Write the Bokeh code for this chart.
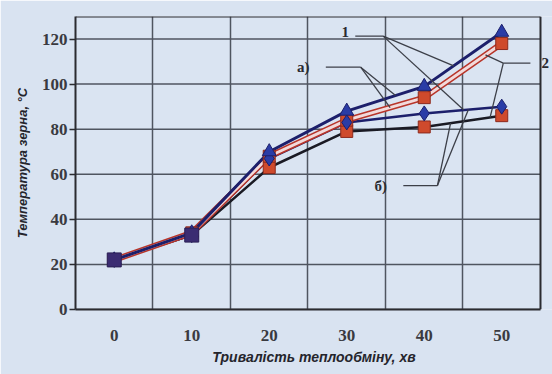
import numpy as np
from bokeh.plotting import figure
from bokeh.models import FixedTicker, Label, Range1d
from bokeh.embed import file_html
from bokeh.resources import INLINE

# Heat-exchange duration, minutes
minutes = [0, 10, 20, 30, 40, 50]
tick_labels = ["0", "10", "20", "30", "40", "50"]
y_ticks = [0, 20, 40, 60, 80, 100, 120]

# Grain temperature, °C, for the four regimes
temp_1a = [22, 34, 70, 88, 99, 123]
temp_2a = [22, 34, 68, 84, 94, 118]
temp_1b = [22, 33, 67, 83, 87, 90]
temp_2b = [22, 33, 63, 79, 81, 86]

X_LO, X_HI, Y_HI = -5, 55, 130

NAVY = "#1c1f6b"
BLUE = "#2a3ca6"
RED = "#cf4a2c"
DARK = "#1a1a24"
GRID = "#4f5560"
FRAME = "#2b2b30"

# the frame runs a little past the plot box so the "2" callout fits on the right
p = figure(width=552, height=374, output_backend="svg", toolbar_location=None,
           x_range=Range1d(X_LO, 56.55), y_range=Range1d(0, Y_HI),
           min_border_left=75, min_border_right=0, min_border_top=16,
           min_border_bottom=65)

p.background_fill_color = "#dae4f2"
p.border_fill_color = "#d9e3f1"
p.outline_line_color = None

# vertical grid between categories, horizontal grid at value ticks (limited to the box)
p.xgrid.ticker = FixedTicker(ticks=[5, 15, 25, 35, 45])
p.xgrid.grid_line_color = GRID
p.xgrid.grid_line_width = 1.5
p.ygrid.grid_line_color = None
p.segment([X_LO] * len(y_ticks), y_ticks, [X_HI] * len(y_ticks), y_ticks,
          line_color=GRID, line_width=1.5)

# box: top and right edges (left and bottom are the axes)
p.segment([X_LO, X_HI], [Y_HI, 0], [X_HI, X_HI], [Y_HI, Y_HI],
          line_color=FRAME, line_width=2)

p.xaxis.ticker = FixedTicker(ticks=minutes)
p.xaxis.major_label_overrides = {m: t for m, t in zip(minutes, tick_labels)}
p.xaxis.major_tick_out = 0
p.xaxis.major_tick_in = 0
p.xaxis.minor_tick_line_color = None
p.xaxis.major_label_standoff = 20
p.xaxis.bounds = (X_LO, X_HI)

p.yaxis.ticker = FixedTicker(ticks=y_ticks)
p.yaxis.major_tick_out = 6
p.yaxis.major_tick_in = 0
p.yaxis.minor_tick_line_color = None
p.yaxis.major_label_standoff = 2

for ax in (p.xaxis, p.yaxis):
    ax.axis_line_color = FRAME
    ax.axis_line_width = 2
    ax.major_tick_line_color = FRAME
    ax.major_tick_line_width = 1.5
    ax.major_label_text_font = "Liberation Serif"
    ax.major_label_text_font_style = "bold"
    ax.major_label_text_font_size = "17px"
    ax.major_label_text_color = "#3a3a40"
    ax.axis_label_text_font = "Liberation Sans"
    ax.axis_label_text_font_style = "bold italic"
    ax.axis_label_text_color = "#25252c"

p.xaxis.axis_label = "Тривалість теплообміну, хв"
p.xaxis.axis_label_text_font_size = "14px"
p.xaxis.axis_label_standoff = 5
p.yaxis.axis_label = "Температура зерна, °С"
p.yaxis.axis_label_text_font_size = "13px"
p.yaxis.axis_label_standoff = 9

# series lines (regime 2a is a red-edged line with a pale core)
p.line(minutes, temp_2b, line_color=DARK, line_width=2.5)
p.line(minutes, temp_1b, line_color=NAVY, line_width=2.5)
p.line(minutes, temp_2a, line_color="#b8352a", line_width=6)
p.line(minutes, temp_2a, line_color="#f2dadb", line_width=3)
p.line(minutes, temp_1a, line_color=NAVY, line_width=3)

# markers
p.scatter(minutes, temp_2b, marker="square", size=12, fill_color=RED,
          line_color="#8c2a1e", line_width=1)
p.scatter(minutes, temp_2a, marker="square", size=12, fill_color=RED,
          line_color="#8c2a1e", line_width=1)
p.scatter(minutes, temp_1b, marker="diamond", size=15, fill_color=BLUE,
          line_color=NAVY, line_width=1)
p.scatter(minutes, temp_1a, marker="triangle", size=14, fill_color=BLUE,
          line_color=NAVY, line_width=1)
p.scatter(minutes[:2], temp_2b[:2], marker="square", size=14,
          fill_color="#3b2c72", line_color="#2a1f55", line_width=1)


def on_curve(series, x):
    return float(np.interp(x, minutes, series))


# leader lines from callout labels to the curves
leaders = [
    # (elbow x, elbow y, start x, [(series, x on curve), ...])
    (34.7, 121.3, 31.1, [(temp_1a, 43.8), (temp_1b, 45.1)]),
    (31.8, 107.5, 27.3, [(temp_1a, 36.3), (temp_2a, 35.6)]),
    (50.2, 109.3, 53.7, [(temp_2a, 47.9), (temp_2b, 48.5)]),
    (41.7, 55.0, 37.3, [(temp_2b, 43.4), (temp_1b, 45.7)]),
]
x0, y0, x1, y1 = [], [], [], []
for ex, ey, sx, targets in leaders:
    x0.append(sx); y0.append(ey); x1.append(ex); y1.append(ey)
    for series, tx in targets:
        x0.append(ex); y0.append(ey); x1.append(tx); y1.append(on_curve(series, tx))
p.segment(x0, y0, x1, y1, line_color="#3c3f48", line_width=1.3)

callouts = [("1", 29.8, 123.0), ("а)", 24.4, 107.5), ("2", 55.6, 109.3), ("б)", 34.4, 55.0)]
for txt, cx, cy in callouts:
    p.add_layout(Label(x=cx, y=cy, text=txt, text_align="center", text_baseline="middle",
                       text_font="Liberation Serif", text_font_style="bold",
                       text_font_size="15px", text_color="#2a2a30"))

open("out.html", "w").write(file_html(p, INLINE))
